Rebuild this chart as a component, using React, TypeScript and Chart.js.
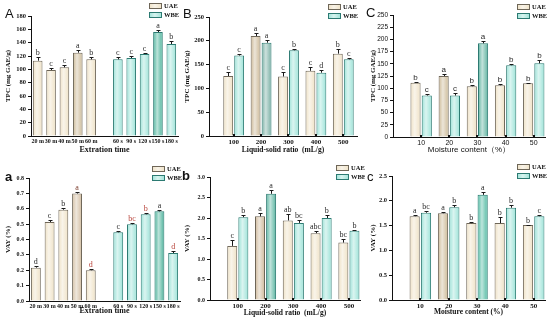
import React, { useEffect, useRef } from 'react';
import { Chart, registerables } from 'chart.js';
Chart.register(...registerables);

const SERIF = '"Times New Roman", "Liberation Serif", serif';
const SANS = 'Arial, "Liberation Sans", sans-serif';

// ---------------- data ----------------
const uaeTimeLabels = ['20 m', '30 m', '40 m', '50 m', '60 m'];
const wbeTimeLabels = ['60 s', '90 s', '120 s', '150 s', '180 s'];
const ratioCats = [100, 200, 300, 400, 500];
const moistureCats = [10, 20, 30, 40, 50];
const yTicksTpcTime = { max: 180, step: 20 };
const yTicksTpc = { max: 250, step: 50 };
const yTicksTpcMoist = { max: 250, step: 25 };
const yTicksVayTime = { max: 0.8, step: 0.1 };
const yTicksVayRatio = { max: 3.0, step: 0.5 };
const yTicksVayMoist = { max: 2.5, step: 0.5 };

const tpcTimeUAE = [113, 99, 103, 125, 115];
const tpcTimeUAEErr = [5, 3, 4, 4, 3];
const tpcTimeUAELetters = ['b', 'c', 'c', 'a', 'b'];
const tpcTimeWBE = [115, 117, 123, 156, 138];
const tpcTimeWBEErr = [3, 3, 2, 3, 4];
const tpcTimeWBELetters = ['c', 'c', 'c', 'a', 'b'];

const tpcRatioUAE = [126, 210, 125, 137, 173];
const tpcRatioUAEErr = [8, 6, 10, 8, 9];
const tpcRatioUAELetters = ['c', 'a', 'c', 'c', 'b'];
const tpcRatioWBE = [169, 196, 180, 133, 161];
const tpcRatioWBEErr = [3, 5, 3, 5, 3];
const tpcRatioWBELetters = ['c', 'a', 'b', 'd', 'c'];

const tpcMoistUAE = [111, 125, 104, 106, 110];
const tpcMoistUAEErr = [2, 4, 2, 2, 1];
const tpcMoistUAELetters = ['b', 'a', 'b', 'b', 'b'];
const tpcMoistWBE = [85, 85, 192, 147, 151];
const tpcMoistWBEErr = [4, 5, 4, 3, 6];
const tpcMoistWBELetters = ['c', 'c', 'a', 'b', 'b'];

const vayTimeUAE = [0.217, 0.514, 0.594, 0.699, 0.2];
const vayTimeUAEErr = [0.01, 0.01, 0.012, 0.01, 0.008];
const vayTimeUAELetters = ['d', 'c', 'b', 'a', 'd'];
const vayTimeWBE = [0.447, 0.499, 0.564, 0.583, 0.312];
const vayTimeWBEErr = [0.01, 0.008, 0.006, 0.01, 0.01];
const vayTimeWBELetters = ['c', 'bc', 'b', 'a', 'd'];

const vayRatioUAE = [1.32, 2.04, 1.94, 1.63, 1.4];
const vayRatioUAEErr = [0.15, 0.08, 0.15, 0.05, 0.1];
const vayRatioUAELetters = ['c', 'a', 'ab', 'abc', 'bc'];
const vayRatioWBE = [2.02, 2.59, 1.88, 2.0, 1.69];
const vayRatioWBEErr = [0.06, 0.1, 0.08, 0.07, 0.02];
const vayRatioWBELetters = ['b', 'a', 'bc', 'b', 'b'];

const vayMoistUAE = [1.69, 1.75, 1.55, 1.55, 1.51];
const vayMoistUAEErr = [0.03, 0.02, 0.02, 0.13, 0.01];
const vayMoistUAELetters = ['a', 'a', 'b', 'b', 'b'];
const vayMoistWBE = [1.76, 1.87, 2.12, 1.86, 1.69];
const vayMoistWBEErr = [0.04, 0.04, 0.05, 0.05, 0.03];
const vayMoistWBELetters = ['bc', 'b', 'a', 'b', 'c'];

// ---------------- styles ----------------
const UAE_FILL = '#EFE2C6';
const UAE_BORDER = '#6E6658';
const WBE_FILL = '#9DE3D8';
const WBE_BORDER = '#2C7A72';
const RED = '#B8433A';
const DARK = '#2a2a2a';

const f = (size: number, family: string, weight: any = 'normal') => ({ size, family, weight, lineHeight: 1.2 });

type Series = {
  vals: number[]; errs: number[]; letters: string[]; hl: number; hlFill: string; letterColors?: string[];
};

type Spec = {
  pos: { left: number; top: number; w: number; h: number };
  area: { l: number; r: number; t: number; b: number };
  mode: 'time' | 'group';
  cats: any[];
  xRange?: [number, number];
  uae: Series;
  wbe: Series;
  y: { max: number; step: number; dec: number; font: any };
  xTickFont: any;
  yTitle: { text: string; font: any; pad: number };
  xTitle: { text: string; font: any; pad: number };
  letter: { text: string; x: number; y: number; font: string };
  legend: { x: number; y: number; font: string };
  markFont: string;
};

const specs: Spec[] = [
  {
    pos: { left: 0, top: 0, w: 183, h: 160 },
    area: { l: 31, r: 178, t: 16, b: 136 },
    mode: 'time',
    cats: [...uaeTimeLabels, '', ...wbeTimeLabels],
    uae: { vals: tpcTimeUAE, errs: tpcTimeUAEErr, letters: tpcTimeUAELetters, hl: 3, hlFill: '#CDBB98' },
    wbe: { vals: tpcTimeWBE, errs: tpcTimeWBEErr, letters: tpcTimeWBELetters, hl: 3, hlFill: '#4DB49C' },
    y: { ...yTicksTpcTime, dec: 0, font: f(6.5, SERIF, 'bold') },
    xTickFont: f(6, SERIF, 'bold'),
    yTitle: { text: 'TPC (mg GAE/g)', font: f(7, SERIF, 'bold'), pad: 3.5 },
    xTitle: { text: 'Extration time', font: f(8, SERIF, 'bold'), pad: 5 },
    letter: { text: 'A', x: 5, y: 18, font: `13px ${SANS}` },
    legend: { x: 149, y: 3, font: `bold 6.5px ${SERIF}` },
    markFont: `8px ${SERIF}`,
  },
  {
    pos: { left: 180, top: 0, w: 183, h: 160 },
    area: { l: 29, r: 177, t: 17, b: 136 },
    mode: 'group',
    cats: ratioCats,
    xRange: [10, 550],
    uae: { vals: tpcRatioUAE, errs: tpcRatioUAEErr, letters: tpcRatioUAELetters, hl: 1, hlFill: '#CDB997' },
    wbe: { vals: tpcRatioWBE, errs: tpcRatioWBEErr, letters: tpcRatioWBELetters, hl: 1, hlFill: '#7AB0A5' },
    y: { ...yTicksTpc, dec: 0, font: f(6.5, SERIF, 'bold') },
    xTickFont: f(7, SERIF, 'bold'),
    yTitle: { text: 'TPC (mg GAE/g)', font: f(7, SERIF, 'bold'), pad: 3 },
    xTitle: { text: 'Liquid-solid ratio  (mL/g)', font: f(7.5, SERIF, 'bold'), pad: 5 },
    letter: { text: 'B', x: 3, y: 18, font: `13px ${SANS}` },
    legend: { x: 148, y: 4, font: `bold 6.5px ${SERIF}` },
    markFont: `8px ${SERIF}`,
  },
  {
    pos: { left: 365, top: 0, w: 185, h: 160 },
    area: { l: 28, r: 180, t: 15, b: 137 },
    mode: 'group',
    cats: moistureCats,
    xRange: [0, 54],
    uae: { vals: tpcMoistUAE, errs: tpcMoistUAEErr, letters: tpcMoistUAELetters, hl: 1, hlFill: '#CDBB98' },
    wbe: { vals: tpcMoistWBE, errs: tpcMoistWBEErr, letters: tpcMoistWBELetters, hl: 2, hlFill: '#5FB3A0' },
    y: { ...yTicksTpcMoist, dec: 0, font: f(6.5, SANS) },
    xTickFont: f(7, SANS),
    yTitle: { text: 'TPC (mg GAE/g)', font: f(7, SERIF, 'bold'), pad: 3.5 },
    xTitle: { text: 'Moisture content（%）', font: f(8, SANS), pad: 5.5 },
    letter: { text: 'C', x: 1, y: 17, font: `13px ${SANS}` },
    legend: { x: 152, y: 4, font: `bold 6.5px ${SERIF}` },
    markFont: `8px ${SANS}`,
  },
  {
    pos: { left: 0, top: 160, w: 185, h: 161 },
    area: { l: 29, r: 180, t: 18, b: 141 },
    mode: 'time',
    cats: [...uaeTimeLabels, '', ...wbeTimeLabels],
    uae: {
      vals: vayTimeUAE, errs: vayTimeUAEErr, letters: vayTimeUAELetters, hl: 3, hlFill: '#D3BEA2',
      letterColors: [DARK, DARK, DARK, '#7a3a2a', RED],
    },
    wbe: {
      vals: vayTimeWBE, errs: vayTimeWBEErr, letters: vayTimeWBELetters, hl: 3, hlFill: '#4DB39B',
      letterColors: [DARK, RED, RED, DARK, RED],
    },
    y: { ...yTicksVayTime, dec: 1, font: f(6, SERIF, 'bold') },
    xTickFont: f(6, SERIF, 'bold'),
    yTitle: { text: 'VAY (%)', font: f(7, SERIF, 'bold'), pad: 4 },
    xTitle: { text: 'Extration time', font: f(8, SERIF, 'bold'), pad: 5 },
    letter: { text: 'a', x: 5, y: 21, font: `bold 13px ${SANS}` },
    legend: { x: 152, y: 6, font: `bold 6.5px ${SERIF}` },
    markFont: `8px ${SERIF}`,
  },
  {
    pos: { left: 180, top: 160, w: 185, h: 161 },
    area: { l: 30, r: 180, t: 17, b: 140 },
    mode: 'group',
    cats: ratioCats,
    xRange: [0, 540],
    uae: { vals: vayRatioUAE, errs: vayRatioUAEErr, letters: vayRatioUAELetters, hl: 1, hlFill: '#D0BA9C' },
    wbe: { vals: vayRatioWBE, errs: vayRatioWBEErr, letters: vayRatioWBELetters, hl: 1, hlFill: '#5BB5A1' },
    y: { ...yTicksVayRatio, dec: 1, font: f(6, SERIF, 'bold') },
    xTickFont: f(7, SERIF, 'bold'),
    yTitle: { text: 'VAY (%)', font: f(7, SERIF, 'bold'), pad: 3 },
    xTitle: { text: 'Liquid-solid ratio  (mL/g)', font: f(7.5, SERIF, 'bold'), pad: 3.5 },
    letter: { text: 'b', x: 2, y: 20, font: `bold 13px ${SANS}` },
    legend: { x: 156, y: 5, font: `bold 6.5px ${SERIF}` },
    markFont: `8px ${SERIF}`,
  },
  {
    pos: { left: 365, top: 160, w: 185, h: 161 },
    area: { l: 27, r: 180, t: 16, b: 140 },
    mode: 'group',
    cats: moistureCats,
    xRange: [0, 54],
    uae: { vals: vayMoistUAE, errs: vayMoistUAEErr, letters: vayMoistUAELetters, hl: 1, hlFill: '#CDBB98' },
    wbe: { vals: vayMoistWBE, errs: vayMoistWBEErr, letters: vayMoistWBELetters, hl: 2, hlFill: '#52BBA3' },
    y: { ...yTicksVayMoist, dec: 1, font: f(6.5, SERIF, 'bold') },
    xTickFont: f(7, SERIF, 'bold'),
    yTitle: { text: 'VAY (%)', font: f(7, SERIF, 'bold'), pad: 4 },
    xTitle: { text: 'Moisture content (%)', font: f(7.5, SERIF, 'bold'), pad: 4.5 },
    letter: { text: 'c', x: 2, y: 21, font: `13px ${SANS}` },
    legend: { x: 152, y: 4, font: `bold 6.5px ${SERIF}` },
    markFont: `8px ${SERIF}`,
  },
];

function fillsFor(s: Series, base: string) {
  return s.vals.map((_, i) => (i === s.hl ? s.hlFill : base));
}

function Panel({ spec }: { spec: Spec }) {
  const ref = useRef<HTMLCanvasElement>(null);
  useEffect(() => {
    const s = spec;
    type Info = { vals: (number | null)[]; errs: number[]; letters: string[]; colors: string[] };
    const infos: Info[] = [];
    let datasets: any[];
    let labels: any[] | undefined;
    let xScale: any;
    const xTitle = {
      display: true, text: s.xTitle.text, font: s.xTitle.font, color: '#111',
      padding: { top: 0, bottom: s.xTitle.pad },
    };
    const xCommon = {
      grid: { display: false, drawTicks: false, tickLength: 0, offset: false },
      border: { display: true, color: '#111', width: 1 },
      title: xTitle,
      afterFit: (sc: any) => { sc.height = s.pos.h - s.area.b; },
    };
    if (s.mode === 'time') {
      labels = s.cats;
      const vals = [...s.uae.vals, null, ...s.wbe.vals];
      datasets = [{
        label: 'UAE / WBE',
        data: vals,
        backgroundColor: [...fillsFor(s.uae, UAE_FILL), 'transparent', ...fillsFor(s.wbe, WBE_FILL)],
        borderColor: [...s.uae.vals.map(() => UAE_BORDER), 'transparent', ...s.wbe.vals.map(() => WBE_BORDER)],
        borderWidth: 1,
        barPercentage: 0.9,
        categoryPercentage: 0.8,
      }];
      infos.push({
        vals,
        errs: [...s.uae.errs, 0, ...s.wbe.errs],
        letters: [...s.uae.letters, '', ...s.wbe.letters],
        colors: [
          ...(s.uae.letterColors || s.uae.vals.map(() => DARK)), DARK,
          ...(s.wbe.letterColors || s.wbe.vals.map(() => DARK)),
        ],
      });
      xScale = {
        ...xCommon,
        type: 'category',
        offset: true,
        ticks: { font: s.xTickFont, color: '#111', padding: 2, autoSkip: false, maxRotation: 0, minRotation: 0 },
      };
    } else {
      const mk = (ser: Series, name: string, base: string, border: string) => ({
        label: name,
        data: s.cats.map((c, i) => ({ x: c, y: ser.vals[i] })),
        backgroundColor: fillsFor(ser, base),
        borderColor: border,
        borderWidth: 1,
        barPercentage: 0.9,
        categoryPercentage: 0.8,
      });
      datasets = [mk(s.uae, 'UAE', UAE_FILL, UAE_BORDER), mk(s.wbe, 'WBE', WBE_FILL, WBE_BORDER)];
      for (const ser of [s.uae, s.wbe]) {
        infos.push({
          vals: ser.vals, errs: ser.errs, letters: ser.letters,
          colors: ser.letterColors || ser.vals.map(() => DARK),
        });
      }
      xScale = {
        ...xCommon,
        type: 'linear',
        offset: false,
        min: s.xRange![0],
        max: s.xRange![1],
        afterBuildTicks: (sc: any) => { sc.ticks = s.cats.map((v) => ({ value: v })); },
        ticks: {
          font: s.xTickFont, color: '#111', padding: 2, autoSkip: false, maxRotation: 0, minRotation: 0,
          callback: (v: any) => String(v),
        },
      };
    }

    const legendItems = [
      { label: 'UAE', fill: UAE_FILL, border: UAE_BORDER },
      { label: 'WBE', fill: WBE_FILL, border: WBE_BORDER },
    ];

    const decor = {
      id: 'decor',
      afterDatasetsDraw(chart: any) {
        const ctx = chart.ctx;
        const yS = chart.scales.y;
        ctx.save();
        infos.forEach((info, di) => {
          const meta = chart.getDatasetMeta(di);
          meta.data.forEach((el: any, i: number) => {
            const v = info.vals[i];
            if (v === null || v === undefined) return;
            const { x, y, base, width } = el.getProps(['x', 'y', 'base', 'width'], true);
            // cylinder-like highlight
            const x0 = x - width / 2;
            const x1 = x + width / 2;
            const g = ctx.createLinearGradient(x0, 0, x1, 0);
            g.addColorStop(0, 'rgba(255,255,255,0)');
            g.addColorStop(0.42, 'rgba(255,255,255,0.62)');
            g.addColorStop(1, 'rgba(255,255,255,0)');
            ctx.fillStyle = g;
            ctx.fillRect(x0 + 1, y + 1, width - 2, base - y - 1.5);
            // error bar
            const top = yS.getPixelForValue(v + info.errs[i]);
            const cx = Math.round(x) + 0.5;
            const ty = Math.round(top) + 0.5;
            ctx.strokeStyle = '#1a1a1a';
            ctx.lineWidth = 1;
            ctx.beginPath();
            ctx.moveTo(cx, y);
            ctx.lineTo(cx, ty);
            ctx.moveTo(cx - 2, ty);
            ctx.lineTo(cx + 2, ty);
            ctx.stroke();
            // significance letter
            ctx.fillStyle = info.colors[i];
            ctx.font = s.markFont;
            ctx.textAlign = 'center';
            ctx.textBaseline = 'bottom';
            ctx.fillText(info.letters[i], x, ty - 0.5);
          });
        });
        // small inward marks at the group positions
        if (s.mode === 'group') {
          const xS = chart.scales.x;
          ctx.fillStyle = '#111';
          s.cats.forEach((c) => {
            const px = Math.round(xS.getPixelForValue(c));
            ctx.fillRect(px - 1, chart.chartArea.bottom - 2, 2, 2);
          });
        }
        ctx.restore();
      },
      afterDraw(chart: any) {
        const ctx = chart.ctx;
        ctx.save();
        legendItems.forEach((it, i) => {
          const bx = s.legend.x;
          const by = s.legend.y + i * 9;
          ctx.fillStyle = it.fill;
          ctx.fillRect(bx, by, 13, 6);
          const g = ctx.createLinearGradient(bx, 0, bx + 13, 0);
          g.addColorStop(0, 'rgba(255,255,255,0)');
          g.addColorStop(0.45, 'rgba(255,255,255,0.6)');
          g.addColorStop(1, 'rgba(255,255,255,0)');
          ctx.fillStyle = g;
          ctx.fillRect(bx, by, 13, 6);
          ctx.strokeStyle = it.border;
          ctx.lineWidth = 1;
          ctx.strokeRect(bx + 0.5, by + 0.5, 12, 5);
          ctx.fillStyle = '#111';
          ctx.font = s.legend.font;
          ctx.textAlign = 'left';
          ctx.textBaseline = 'middle';
          ctx.fillText(it.label, bx + 15, by + 3.5);
        });
        ctx.fillStyle = '#111';
        ctx.font = s.letter.font;
        ctx.textAlign = 'left';
        ctx.textBaseline = 'alphabetic';
        ctx.fillText(s.letter.text, s.letter.x, s.letter.y);
        ctx.restore();
      },
    };

    const chart = new Chart(ref.current as HTMLCanvasElement, {
      type: 'bar',
      data: labels ? { labels, datasets } : { datasets },
      options: {
        responsive: false,
        animation: false,
        devicePixelRatio: 1,
        layout: { padding: { top: s.area.t, right: s.pos.w - s.area.r, left: 0, bottom: 0 } },
        plugins: { legend: { display: false }, tooltip: { enabled: false } },
        scales: {
          x: xScale,
          y: {
            type: 'linear',
            min: 0,
            max: s.y.max,
            ticks: {
              stepSize: s.y.step, font: s.y.font, color: '#111', padding: 2,
              callback: (v: any) => Number(v).toFixed(s.y.dec),
            },
            grid: { display: true, drawOnChartArea: false, drawTicks: true, tickLength: 3, color: '#111', lineWidth: 1 },
            border: { display: true, color: '#111', width: 1 },
            title: {
              display: true, text: s.yTitle.text, font: s.yTitle.font, color: '#111',
              padding: { top: s.yTitle.pad, bottom: 0 },
            },
            afterFit: (sc: any) => { sc.width = s.area.l; },
          },
        },
      } as any,
      plugins: [decor],
    } as any);
    return () => chart.destroy();
  }, [spec]);
  return (
    <canvas
      ref={ref}
      width={spec.pos.w}
      height={spec.pos.h}
      style={{ position: 'absolute', left: spec.pos.left, top: spec.pos.top, width: spec.pos.w, height: spec.pos.h }}
    />
  );
}

export default function App() {
  return (
    <div style={{ position: 'fixed', left: 0, top: 0, width: 550, height: 321, background: '#fff', overflow: 'hidden' }}>
      {specs.map((s, i) => (
        <Panel key={i} spec={s} />
      ))}
    </div>
  );
}
